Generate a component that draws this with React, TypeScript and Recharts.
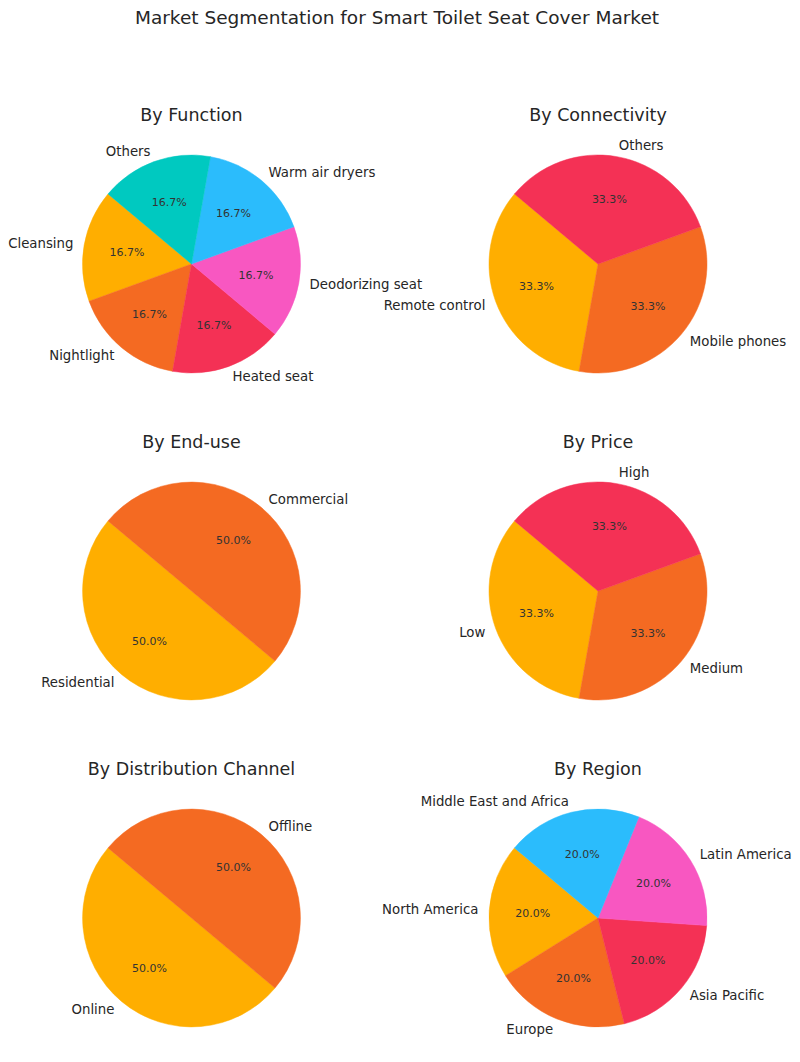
import React from 'react'
import { PieChart, Pie, Cell } from 'recharts'

const COLORS = ['#FFAE00', '#F46A22', '#F43155', '#F857C1', '#2BBCFC', '#00C9C0']

const functionNames = ['Cleansing', 'Nightlight', 'Heated seat', 'Deodorizing seat', 'Warm air dryers', 'Others']
const functionValues = [1, 1, 1, 1, 1, 1]

const connectivityNames = ['Remote control', 'Mobile phones', 'Others']
const connectivityValues = [1, 1, 1]

const endUseNames = ['Residential', 'Commercial']
const endUseValues = [1, 1]

const priceNames = ['Low', 'Medium', 'High']
const priceValues = [1, 1, 1]

const channelNames = ['Online', 'Offline']
const channelValues = [1, 1]

const regionNames = ['North America', 'Europe', 'Asia Pacific', 'Latin America', 'Middle East and Africa']
const regionValues = [1, 1, 1, 1, 1]

const toRows = (names: string[], values: number[]) =>
  names.map((name, i) => ({ name, value: values[i] }))

const panels = [
  { title: 'By Function', data: toRows(functionNames, functionValues), cx: 191.5, cy: 264 },
  { title: 'By Connectivity', data: toRows(connectivityNames, connectivityValues), cx: 598, cy: 264 },
  { title: 'By End-use', data: toRows(endUseNames, endUseValues), cx: 191.5, cy: 591 },
  { title: 'By Price', data: toRows(priceNames, priceValues), cx: 598, cy: 591 },
  { title: 'By Distribution Channel', data: toRows(channelNames, channelValues), cx: 191.5, cy: 918 },
  { title: 'By Region', data: toRows(regionNames, regionValues), cx: 598, cy: 918 },
]

const RADIAN = Math.PI / 180
const FONT = "'DejaVu Sans', sans-serif"

const renderLabel = (props: any) => {
  const { cx, cy, midAngle, outerRadius, percent, name } = props
  const cos = Math.cos(-midAngle * RADIAN)
  const sin = Math.sin(-midAngle * RADIAN)
  const lx = cx + outerRadius * 1.1 * cos
  const ly = cy + outerRadius * 1.1 * sin
  const px = cx + outerRadius * 0.6 * cos
  const py = cy + outerRadius * 0.6 * sin
  return (
    <g>
      <text x={lx} y={ly} textAnchor={cos > 0 ? 'start' : 'end'} dominantBaseline="central"
        fontSize={13.3} fill="#262626" fontFamily={FONT}>
        {name}
      </text>
      <text x={px} y={py} textAnchor="middle" dominantBaseline="central"
        fontSize={11} fill="#333" fontFamily={FONT}>
        {(percent * 100).toFixed(1)}%
      </text>
    </g>
  )
}

const App = () => {
  return (
    <div style={{ position: 'absolute', left: 0, top: 0, width: 800, height: 1062, background: '#fff', fontFamily: FONT }}>
      <div style={{ position: 'absolute', left: 397, top: 17, transform: 'translate(-50%, -50%)', fontSize: 18.5, color: '#262626', whiteSpace: 'nowrap' }}>
        Market Segmentation for Smart Toilet Seat Cover Market
      </div>
      {panels.map((p) => (
        <div key={p.title} style={{ position: 'absolute', left: p.cx, top: p.cy - 149, transform: 'translate(-50%, -50%)', fontSize: 17.5, color: '#262626', whiteSpace: 'nowrap' }}>
          {p.title}
        </div>
      ))}
      <div style={{ position: 'absolute', left: 0, top: 0 }}>
        <PieChart width={800} height={1062} margin={{ top: 0, right: 0, bottom: 0, left: 0 }}>
          {panels.map((p) => (
            <Pie
              key={p.title}
              data={p.data}
              dataKey="value"
              nameKey="name"
              cx={p.cx}
              cy={p.cy}
              outerRadius={109}
              startAngle={140}
              endAngle={500}
              label={renderLabel}
              labelLine={false}
              isAnimationActive={false}
            >
              {p.data.map((d, i) => (
                <Cell key={d.name} fill={COLORS[i]} stroke={COLORS[i]} strokeWidth={0.5} />
              ))}
            </Pie>
          ))}
        </PieChart>
      </div>
    </div>
  )
}

export default App
